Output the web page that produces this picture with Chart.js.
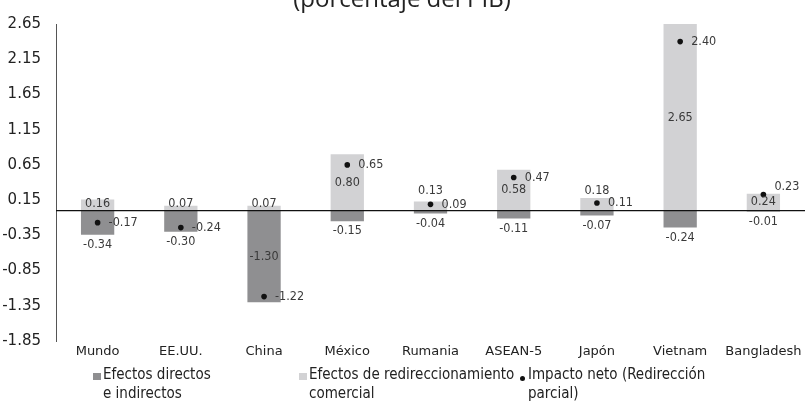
<!DOCTYPE html>
<html>
<head>
<meta charset="utf-8">
<script src="https://cdn.jsdelivr.net/npm/chart.js@4"></script>
<style>
  body { margin: 0; background: #fff; }
  #wrap { position: relative; width: 809px; height: 403px; }
  .legend { position: absolute; top: 365px; font-family: "DejaVu Sans", sans-serif; font-stretch: condensed;
            font-size: 15px; line-height: 19px; color: #222; white-space: nowrap; }
  .legend .mark { position: absolute; left: -10px; top: 8px; width: 8px; height: 7px; }
  .legend .dot { position: absolute; left: -8px; top: 11px; width: 5px; height: 5px; border-radius: 50%; background: #111; }
</style>
</head>
<body>
<div id="wrap">
  <canvas id="chart" width="809" height="403"></canvas>
  <div class="legend" style="left:103px"><span class="mark" style="background:#8f8f91"></span>Efectos directos<br>e indirectos</div>
  <div class="legend" style="left:309px"><span class="mark" style="background:#d2d2d4"></span>Efectos de redireccionamiento<br>comercial</div>
  <div class="legend" style="left:528px"><span class="dot"></span>Impacto neto (Redirección<br>parcial)</div>
</div>
<script>
const countries = ['Mundo', 'EE.UU.', 'China', 'México', 'Rumania', 'ASEAN-5', 'Japón', 'Vietnam', 'Bangladesh'];
const directEffects = [-0.34, -0.30, -1.30, -0.15, -0.04, -0.11, -0.07, -0.24, -0.01];
const redirectEffects = [0.16, 0.07, 0.07, 0.80, 0.13, 0.58, 0.18, 2.65, 0.24];
const netImpact = [-0.17, -0.24, -1.22, 0.65, 0.09, 0.47, 0.11, 2.40, 0.23];
const yTicks = [2.65, 2.15, 1.65, 1.15, 0.65, 0.15, -0.35, -0.85, -1.35, -1.85];

const FONT = '"DejaVu Sans", sans-serif';
const DARK = '#8f8f91';
const LIGHT = '#d2d2d4';

// labels of the small redirection bars that sit above the net-impact dot
const liftedLabels = ['Rumania', 'Japón'];

const annotate = {
    id: 'annotate',
    afterDraw(chart) {
        const ctx = chart.ctx;
        const area = chart.chartArea;
        const y = chart.scales.y;
        const zero = y.getPixelForValue(0);

        ctx.save();
        // subtitle, clipped by the top edge
        ctx.fillStyle = '#222';
        ctx.font = '24px "Open Sans", sans-serif';
        ctx.textAlign = 'center';
        ctx.textBaseline = 'alphabetic';
        ctx.fillText('(porcentaje del PIB)', 402, 7);

        // zero line
        ctx.strokeStyle = '#111';
        ctx.lineWidth = 1.2;
        ctx.beginPath();
        ctx.moveTo(area.left, zero);
        ctx.lineTo(area.right, zero);
        ctx.stroke();

        ctx.font = 'condensed 12.5px ' + FONT;
        ctx.fillStyle = '#3a3a3a';
        ctx.textBaseline = 'middle';
        const darkMeta = chart.getDatasetMeta(0);
        const lightMeta = chart.getDatasetMeta(1);
        const dotMeta = chart.getDatasetMeta(2);

        countries.forEach((c, i) => {
            // direct effects: below the bar, or inside when it is tall
            const d = darkMeta.data[i];
            const dh = d.y - d.base;
            ctx.textAlign = 'center';
            if (dh > 40) {
                ctx.fillText(directEffects[i].toFixed(2), d.x, (d.y + d.base) / 2);
            } else {
                ctx.fillText(directEffects[i].toFixed(2), d.x, d.y + 10);
            }

            // redirection effects: centered in the bar
            const l = lightMeta.data[i];
            let ly = Math.min((l.y + l.base) / 2, zero - 7);
            if (liftedLabels.includes(c)) ly = zero - 20;
            ctx.fillText(redirectEffects[i].toFixed(2), l.x, ly);

            // net impact value next to its dot
            const p = dotMeta.data[i];
            ctx.textAlign = 'left';
            const py = c === 'Bangladesh' ? p.y - 8 : p.y;
            ctx.fillText(netImpact[i].toFixed(2), p.x + 11, py);
        });
        ctx.restore();
    }
};

new Chart(document.getElementById('chart'), {
    data: {
        labels: countries,
        datasets: [
            {
                type: 'bar',
                label: 'Efectos directos e indirectos',
                data: directEffects,
                backgroundColor: DARK,
                stack: 's',
                barPercentage: 0.4,
                categoryPercentage: 1,
                order: 2
            },
            {
                type: 'bar',
                label: 'Efectos de redireccionamiento comercial',
                data: redirectEffects,
                backgroundColor: LIGHT,
                stack: 's',
                barPercentage: 0.4,
                categoryPercentage: 1,
                order: 2
            },
            {
                type: 'line',
                label: 'Impacto neto (Redirección parcial)',
                data: netImpact,
                showLine: false,
                pointRadius: 2.8,
                pointBackgroundColor: '#111',
                pointBorderWidth: 0,
                order: 1
            }
        ]
    },
    options: {
        responsive: false,
        animation: false,
        layout: { padding: { top: 20, right: 1, left: 0, bottom: 0 } },
        plugins: {
            legend: { display: false },
            tooltip: { enabled: false }
        },
        scales: {
            x: {
                stacked: true,
                grid: { display: false, drawTicks: false },
                border: { display: false },
                ticks: { color: '#222', font: { family: FONT, style: 'condensed', size: 13 }, padding: 3, maxRotation: 0 },
                afterFit(scale) { scale.height = 62; }
            },
            y: {
                stacked: true,
                min: -1.85,
                max: 2.65,
                afterBuildTicks(scale) { scale.ticks = yTicks.map(v => ({ value: v })); },
                grid: { display: false, drawTicks: false },
                border: { display: true, color: '#555', width: 1 },
                ticks: {
                    color: '#222',
                    font: { family: FONT, style: 'condensed', size: 15 },
                    padding: 15,
                    callback: v => v.toFixed(2)
                },
                afterFit(scale) { scale.width = 56; }
            }
        }
    },
    plugins: [annotate]
});
</script>
</body>
</html>
